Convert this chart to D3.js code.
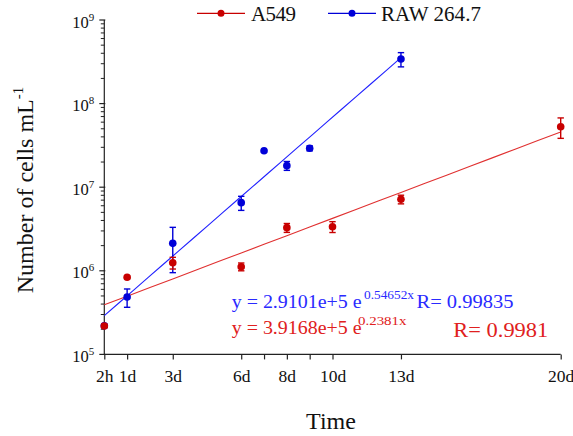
<!DOCTYPE html>
<html><head><meta charset="utf-8">
<script src="https://cdn.jsdelivr.net/npm/d3@7/dist/d3.min.js"></script>
<style>body{margin:0;background:#fff}svg{display:block}text{font-family:"Liberation Serif","Times New Roman",serif}</style>
</head><body><svg id="c" width="573" height="436"></svg>
<script>
// ---- data ----
const tickDays   = [0, 1, 3, 6, 7, 8, 9, 10, 13, 20];
const tickLabels = ["2h", "1d", "3d", "6d", "", "8d", "", "10d", "13d", "20d"];
const yTicks     = [1e5, 1e6, 1e7, 1e8, 1e9];
const yTickExp   = ["5", "6", "7", "8", "9"];

const rawDays = [0, 1, 3, 6, 7, 8, 9, 13];
const rawVals = [2.2e5, 4.86e5, 2.13e6, 6.53e6, 2.73e7, 1.81e7, 2.92e7, 3.41e8];
const rawErr  = [0.1e5, 1.2e5, 1.18e6, 1.25e6, 0, 0.22e7, 0.2e7, 0.66e8];

const a549Days = [0, 1, 3, 6, 8, 10, 13, 20];
const a549Vals = [2.19e5, 8.36e5, 1.25e6, 1.12e6, 3.28e6, 3.37e6, 7.17e6, 5.29e7];
const a549Err  = [0.1e5, 0.3e5, 0.2e6, 0.12e6, 0.4e6, 0.5e6, 0.85e6, 1.45e7];

const rawFit  = [2.9101e5, 0.54652, 0, 13];
const a549Fit = [3.9168e5, 0.2381, 0, 20];

// ---- layout ----
const svg = d3.select("#c");
const x = d3.scaleLinear().domain([0, 20]).range([104.3, 560.7]);
const y = d3.scaleLog().domain([1e5, 1e9]).range([354.4, 20]);

const BLUE = "#0000d8", BLUE_LINE = "#2020ff", BLUE_TXT = "#2a2aff";
const RED = "#c80000", RED_LINE = "#e03030", RED_TXT = "#e02020";

// axes
const xAxis = d3.axisBottom(x).tickValues(tickDays).tickSize(5)
  .tickFormat((d, i) => tickLabels[i]);
const gx = svg.append("g").attr("transform", `translate(0,${y(1e5)})`).call(xAxis);
gx.select(".domain").attr("d", `M${x(0)},0H${x(20)}`).attr("stroke", "#222").attr("stroke-width", 1.2);
gx.selectAll(".tick line").attr("stroke", "#222").attr("stroke-width", 1.2);
gx.selectAll(".tick text").attr("font-size", 17.5).attr("fill", "#111").attr("y", 15)
  .attr("font-family", "Liberation Serif");

const minor = [];
for (let e = 5; e < 9; e++) for (let m = 2; m <= 9; m++) minor.push(m * Math.pow(10, e));
const gy = svg.append("g").attr("transform", `translate(${x(0)},0)`);
gy.append("line").attr("y1", y(1e5)).attr("y2", y(1e9)).attr("stroke", "#222").attr("stroke-width", 1.2);
gy.selectAll(".mj").data(yTicks).join("line").attr("x1", -5).attr("x2", 1)
  .attr("y1", d => y(d)).attr("y2", d => y(d)).attr("stroke", "#222").attr("stroke-width", 1.2);
gy.selectAll(".mn").data(minor).join("line").attr("x1", -3.5).attr("x2", 0)
  .attr("y1", d => y(d)).attr("y2", d => y(d)).attr("stroke", "#222").attr("stroke-width", 1);
const yl = gy.selectAll(".yl").data(yTicks).join("text")
  .attr("x", -10).attr("y", d => y(d) + 7.5).attr("text-anchor", "end")
  .attr("font-size", 16.5).attr("fill", "#111");
yl.append("tspan").text("10");
yl.append("tspan").attr("dy", -7).attr("font-size", 11).text((d, i) => yTickExp[i]);

// fit lines
function fitLine(p, color) {
  const pts = d3.range(p[2], p[3] + 0.001, (p[3] - p[2]) / 20).map(t => [t, p[0] * Math.exp(p[1] * t)]);
  svg.append("path").datum(pts).attr("fill", "none").attr("stroke", color).attr("stroke-width", 1.1)
    .attr("d", d3.line().x(d => x(d[0])).y(d => y(d[1])));
}
fitLine(a549Fit, RED_LINE);
fitLine(rawFit, BLUE_LINE);

// points + error bars
function series(days, vals, errs, color) {
  const g = svg.append("g");
  days.forEach((d, i) => {
    if (errs[i] > 0) {
      const lo = y(vals[i] - errs[i]), hi = y(vals[i] + errs[i]), cx = x(d);
      g.append("line").attr("x1", cx).attr("x2", cx).attr("y1", lo).attr("y2", hi).attr("stroke", color).attr("stroke-width", 1.4);
      [lo, hi].forEach(v => g.append("line").attr("x1", cx - 3.2).attr("x2", cx + 3.2).attr("y1", v).attr("y2", v)
        .attr("stroke", color).attr("stroke-width", 1.4));
    }
    g.append("circle").attr("cx", x(d)).attr("cy", y(vals[i])).attr("r", 3.8).attr("fill", color);
  });
}
series(rawDays, rawVals, rawErr, BLUE);
series(a549Days, a549Vals, a549Err, RED);

// legend
const leg = [["A549", RED, 197, 251, 45], ["RAW 264.7", BLUE, 328, 381, 100]];
leg.forEach(([name, c, lx, tx, w]) => {
  svg.append("line").attr("x1", lx).attr("x2", lx + 48).attr("y1", 13.3).attr("y2", 13.3).attr("stroke", c).attr("stroke-width", 1.3);
  svg.append("circle").attr("cx", lx + 24).attr("cy", 13.3).attr("r", 3.5).attr("fill", c);
  svg.append("text").attr("x", tx).attr("y", 20.5).attr("font-size", 21).attr("fill", "#111")
    .attr("textLength", w).attr("lengthAdjust", "spacing").text(name);
});

// equations
function txt(xp, yp, s, size, color, w) {
  svg.append("text").attr("x", xp).attr("y", yp).attr("font-size", size).attr("fill", color)
    .attr("textLength", w).attr("lengthAdjust", "spacingAndGlyphs").text(s);
}
txt(231.7, 307.5, "y = 2.9101e+5 e", 19, BLUE_TXT, 130);
txt(364, 298.5, "0.54652x", 12.5, BLUE_TXT, 50);
txt(416.5, 307.5, "R= 0.99835", 19, BLUE_TXT, 97);
txt(231.7, 334, "y = 3.9168e+5 e", 19, RED_TXT, 130);
txt(358, 325, "0.2381x", 12.5, RED_TXT, 48.5);
txt(453.3, 336.5, "R= 0.9981", 20.5, RED_TXT, 95);

// axis titles
svg.append("text").attr("x", 331).attr("y", 429).attr("text-anchor", "middle").attr("font-size", 24).attr("fill", "#111").text("Time");
const yt = svg.append("text").attr("transform", "translate(33,190) rotate(-90)").attr("text-anchor", "middle")
  .attr("font-size", 24).attr("fill", "#111");
yt.append("tspan").text("Number of cells mL");
yt.append("tspan").attr("dy", -10).attr("font-size", 15).text("-1");
</script></body></html>
